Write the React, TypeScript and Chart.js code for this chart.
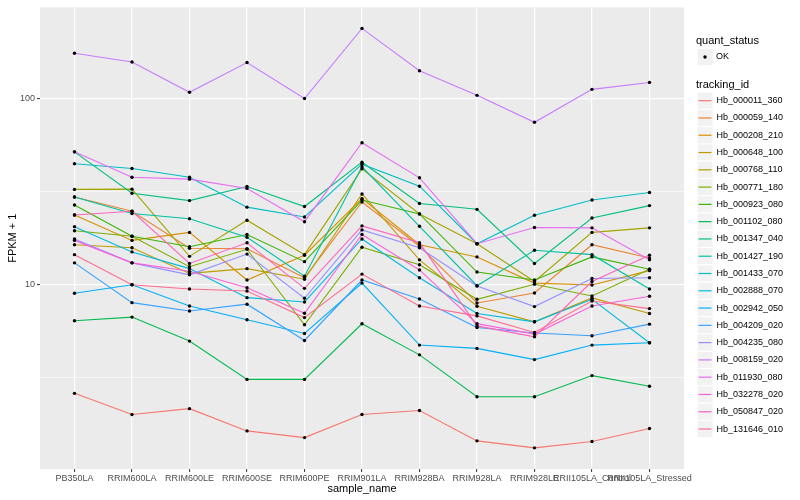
import React, { useEffect, useRef } from 'react';
import { Chart, registerables } from 'chart.js';

Chart.register(...registerables);

const sampleNames = [
  'PB350LA', 'RRIM600LA', 'RRIM600LE', 'RRIM600SE', 'RRIM600PE', 'RRIM901LA',
  'RRIM928BA', 'RRIM928LA', 'RRIM928LE', 'RRII105LA_Control', 'RRII105LA_Stressed',
];

const trackingIds = [
  'Hb_000011_360', 'Hb_000059_140', 'Hb_000208_210', 'Hb_000648_100', 'Hb_000768_110',
  'Hb_000771_180', 'Hb_000923_080', 'Hb_001102_080', 'Hb_001347_040', 'Hb_001427_190',
  'Hb_001433_070', 'Hb_002888_070', 'Hb_002942_050', 'Hb_004209_020', 'Hb_004235_080',
  'Hb_008159_020', 'Hb_011930_080', 'Hb_032278_020', 'Hb_050847_020', 'Hb_131646_010',
];

const seriesColors = [
  '#F8766D', '#EA8331', '#D89000', '#C09B00', '#A3A500', '#7CAE00', '#39B600', '#00BB4E',
  '#00BF7D', '#00C1A3', '#00BFC4', '#00BAE0', '#00B0F6', '#35A2FF', '#9590FF', '#C77CFF',
  '#E76BF3', '#FA62DB', '#FF62BC', '#FF6C91',
];

// FPKM + 1 values per sample (same order as sampleNames)
const hb000011_360 = [2.61, 2.01, 2.16, 1.64, 1.51, 2.01, 2.11, 1.45, 1.33, 1.44, 1.69];
const hb000059_140 = [29.6, 24.8, 15.7, 15.6, 10.9, 27.8, 16.1, 7.98, 9.03, 16.4, 13.9];
const hb000208_210 = [23.7, 17.3, 19.1, 10.6, 14.4, 29.0, 16.4, 14.1, 10.2, 9.96, 11.9];
const hb000648_100 = [16.4, 15.8, 11.5, 12.2, 10.7, 30.7, 13.6, 7.66, 6.32, 8.49, 7.0];
const hb000768_110 = [32.5, 32.6, 14.2, 22.2, 14.5, 41.9, 24.0, 16.6, 10.4, 19.1, 20.2];
const hb000771_180 = [19.5, 18.2, 12.5, 15.5, 6.09, 15.9, 12.8, 8.35, 10.05, 8.7, 12.1];
const hb000923_080 = [26.8, 18.2, 16.0, 18.6, 13.3, 28.5, 24.0, 11.7, 10.6, 14.1, 12.1];
const hb001102_080 = [6.4, 6.7, 4.98, 3.1, 3.1, 6.17, 4.2, 2.5, 2.5, 3.25, 2.85];
const hb001347_040 = [51.7, 31.0, 28.3, 33.7, 26.3, 45.5, 27.3, 25.4, 13.0, 22.8, 26.6];
const hb001427_190 = [29.6, 24.1, 22.6, 18.0, 11.1, 43.0, 20.6, 9.88, 15.3, 14.5, 9.48];
const hb001433_070 = [44.6, 42.1, 37.8, 26.1, 23.1, 44.4, 33.8, 16.6, 23.6, 28.5, 31.3];
const hb002888_070 = [20.5, 15.0, 12.2, 8.52, 8.08, 17.6, 10.9, 7.0, 6.32, 8.35, 4.88];
const hb002942_050 = [8.99, 10.0, 7.69, 6.48, 5.47, 10.2, 4.74, 4.55, 3.96, 4.74, 4.88];
const hb004209_020 = [13.1, 8.01, 7.23, 7.86, 5.02, 10.6, 8.38, 5.89, 5.5, 5.32, 6.14];
const hb004235_080 = [17.6, 13.1, 11.3, 14.6, 8.46, 19.7, 15.8, 9.84, 7.63, 10.8, 10.9];
const hb008159_020 = [175, 157, 108, 156, 100, 238, 141, 104, 74.5, 112, 122];
const hb011930_080 = [51.7, 37.8, 36.9, 32.9, 21.8, 57.9, 37.5, 16.6, 20.3, 20.2, 13.6];
const hb032278_020 = [17.3, 13.1, 11.8, 9.63, 7.03, 18.6, 12.0, 6.18, 5.43, 7.69, 8.67];
const hb050847_020 = [23.7, 24.8, 13.0, 16.8, 9.56, 20.7, 16.8, 6.01, 5.25, 10.4, 14.4];
const hb131646_010 = [14.5, 10.0, 9.48, 9.25, 6.66, 11.4, 7.69, 6.8, 5.54, 8.18, 7.44];

const seriesValues = [
  hb000011_360, hb000059_140, hb000208_210, hb000648_100, hb000768_110,
  hb000771_180, hb000923_080, hb001102_080, hb001347_040, hb001427_190,
  hb001433_070, hb002888_070, hb002942_050, hb004209_020, hb004235_080,
  hb008159_020, hb011930_080, hb032278_020, hb050847_020, hb131646_010,
];

const yMajorTicks = [10, 100];
const yMinorTicks = [3.1623, 31.623];
const yRange = { min: 1.024, max: 308.5 };
const quantStatusLevels = ['OK'];

const FONT = "'Liberation Sans', Arial, Helvetica, sans-serif";

const panelBackground = {
  id: 'panelBackground',
  beforeDraw(chart: any) {
    const { ctx, chartArea: a } = chart;
    ctx.save();
    ctx.fillStyle = '#EBEBEB';
    ctx.fillRect(a.left, a.top, a.right - a.left, a.bottom - a.top);
    ctx.restore();
  },
};

const ggLegend = {
  id: 'ggLegend',
  afterDraw(chart: any) {
    const { ctx, chartArea } = chart;
    const x0 = chartArea.right + 12;
    const keyW = 16;
    const keyH = 17.28;
    ctx.save();
    ctx.textBaseline = 'middle';
    ctx.textAlign = 'left';
    // quant_status
    ctx.fillStyle = '#000000';
    ctx.font = `11px ${FONT}`;
    ctx.fillText('quant_status', x0, 41);
    quantStatusLevels.forEach((lvl, i) => {
      const cy = 57 + i * keyH;
      ctx.fillStyle = '#F2F2F2';
      ctx.fillRect(x0 + 1, cy - keyH / 2, keyW, keyH);
      ctx.strokeStyle = '#FFFFFF';
      ctx.lineWidth = 1;
      ctx.strokeRect(x0 + 1, cy - keyH / 2, keyW, keyH);
      ctx.fillStyle = '#000000';
      ctx.beginPath();
      ctx.arc(x0 + 1 + keyW / 2, cy, 1.7, 0, Math.PI * 2);
      ctx.fill();
      ctx.font = `9px ${FONT}`;
      ctx.fillText(lvl, x0 + keyW + 4, cy);
    });
    // tracking_id
    ctx.font = `11px ${FONT}`;
    ctx.fillStyle = '#000000';
    ctx.fillText('tracking_id', x0, 84.5);
    chart.data.datasets.forEach((ds: any) => {
      if (ds.legendIndex === undefined) return;
      const i = ds.legendIndex;
      const cy = 100.7 + i * keyH;
      ctx.fillStyle = '#F2F2F2';
      ctx.fillRect(x0 + 1, cy - keyH / 2, keyW, keyH);
      ctx.strokeStyle = '#FFFFFF';
      ctx.lineWidth = 1;
      ctx.strokeRect(x0 + 1, cy - keyH / 2, keyW, keyH);
      ctx.strokeStyle = ds.borderColor;
      ctx.lineWidth = 1.2;
      ctx.beginPath();
      ctx.moveTo(x0 + 2.5, cy);
      ctx.lineTo(x0 + keyW - 0.5, cy);
      ctx.stroke();
      ctx.fillStyle = '#000000';
      ctx.font = `9px ${FONT}`;
      ctx.fillText(ds.label, x0 + keyW + 4.5, cy);
    });
    ctx.restore();
  },
};

export default function App() {
  const canvasRef = useRef<HTMLCanvasElement | null>(null);

  useEffect(() => {
    if (!canvasRef.current) return;
    const lineDatasets = trackingIds.map((id, i) => ({
      type: 'line',
      label: id,
      legendIndex: i,
      data: seriesValues[i].map((v, j) => ({ x: j, y: v })),
      borderColor: seriesColors[i],
      backgroundColor: seriesColors[i],
      borderWidth: 1.1,
      pointRadius: 0,
      pointHoverRadius: 0,
      fill: false,
      tension: 0,
      order: trackingIds.length - i,
    }));
    const pointData: { x: number; y: number }[] = [];
    seriesValues.forEach((vals) => vals.forEach((v, j) => pointData.push({ x: j, y: v })));
    const pointDataset = {
      type: 'line',
      label: 'OK',
      data: pointData,
      showLine: false,
      pointRadius: 1.7,
      pointHoverRadius: 1.7,
      pointBackgroundColor: '#000000',
      pointBorderWidth: 0,
      borderColor: '#000000',
      order: 0,
    };

    const chart = new Chart(canvasRef.current, {
      type: 'line',
      data: { datasets: [pointDataset, ...lineDatasets] as any },
      options: {
        animation: false,
        responsive: false,
        devicePixelRatio: 1,
        layout: { padding: { left: 0, right: 116, top: 5, bottom: 0 } },
        plugins: { legend: { display: false }, tooltip: { enabled: false } },
        events: [],
        scales: {
          x: {
            type: 'linear',
            min: -0.6,
            max: sampleNames.length - 1 + 0.6,
            afterBuildTicks: (s: any) => {
              s.ticks = sampleNames.map((_, i) => ({ value: i }));
            },
            afterFit: (s: any) => {
              s.height = 31;
            },
            ticks: {
              callback: (v: any) => sampleNames[v] ?? '',
              autoSkip: false,
              maxRotation: 0,
              minRotation: 0,
              padding: 1,
              color: '#4D4D4D',
              font: { family: FONT, size: 9 },
            },
            grid: {
              color: '#FFFFFF',
              lineWidth: 1.2,
              tickLength: 3,
              tickColor: '#333333',
              tickWidth: 1,
            },
            border: { display: false },
            title: {
              display: true,
              text: 'sample_name',
              color: '#000000',
              font: { family: FONT, size: 11 },
              padding: { top: 0, bottom: 4 },
            },
          },
          y: {
            type: 'logarithmic',
            min: yRange.min,
            max: yRange.max,
            afterBuildTicks: (s: any) => {
              s.ticks = [...yMinorTicks, ...yMajorTicks]
                .sort((a, b) => a - b)
                .map((v) => ({ value: v, major: yMajorTicks.includes(v) }));
            },
            afterFit: (s: any) => {
              s.width = 40;
            },
            ticks: {
              callback: (v: any) => (yMajorTicks.includes(v) ? String(v) : ''),
              autoSkip: false,
              padding: 2,
              color: '#4D4D4D',
              font: { family: FONT, size: 9 },
            },
            grid: {
              color: '#FFFFFF',
              lineWidth: (c: any) => (c.tick && yMajorTicks.includes(c.tick.value) ? 1.2 : 0.6),
              tickLength: 3,
              tickColor: (c: any) =>
                c.tick && yMajorTicks.includes(c.tick.value) ? '#333333' : 'rgba(0,0,0,0)',
              tickWidth: 1,
            },
            border: { display: false },
            title: {
              display: true,
              text: 'FPKM + 1',
              color: '#000000',
              font: { family: FONT, size: 11 },
              padding: { top: 6, bottom: 0 },
            },
          },
        },
      } as any,
      plugins: [panelBackground, ggLegend],
    });
    return () => chart.destroy();
  }, []);

  return (
    <div style={{ position: 'fixed', left: 0, top: 0, width: 800, height: 500, background: '#FFFFFF' }}>
      <canvas ref={canvasRef} width={800} height={500} style={{ display: 'block' }} />
    </div>
  );
}
